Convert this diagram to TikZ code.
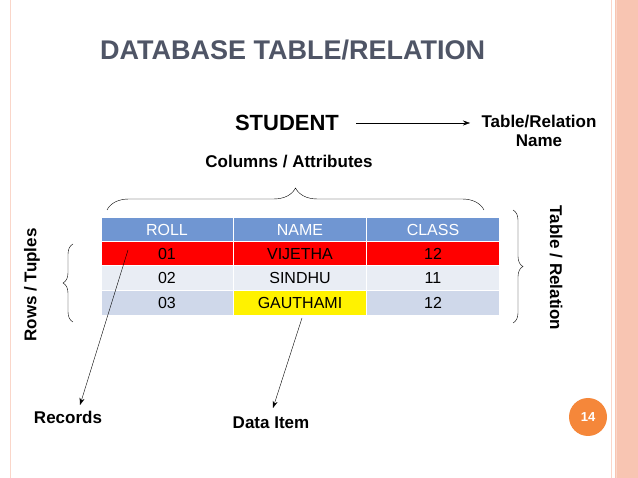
\documentclass[tikz,border=0pt]{standalone}
\usepackage{fontspec}
\setmainfont{Liberation Sans}
\usetikzlibrary{arrows.meta,decorations.pathreplacing}
\definecolor{hdr}{HTML}{7096D2}
\definecolor{rowa}{HTML}{E9EDF4}
\definecolor{rowb}{HTML}{CFD8EA}
\definecolor{ttl}{HTML}{4F5566}
\definecolor{pinkb}{HTML}{F8C5B2}
\definecolor{orng}{HTML}{F5873A}
\tikzset{lbl/.style={font=\bfseries\fontsize{17}{19}\selectfont,align=center},
cell/.style={font=\fontsize{16}{18}\selectfont},
ptr/.style={-{Stealth[length=7pt,width=5pt]},thin}}
\begin{document}
\begin{tikzpicture}[x=1pt,y=-1pt]
\useasboundingbox (0,0) rectangle (638,478);
\fill[white] (0,0) rectangle (638,478);
\fill[pinkb] (611,0) rectangle (638,478);
\draw[pinkb!70,line width=1pt] (611,0)--(611,478) (616,0)--(616,478) (10,0)--(10,478);
\fill[white] (612,0) rectangle (615,478);
\node[text=ttl,font=\bfseries\fontsize{27}{30}\selectfont,anchor=west,inner sep=0pt] (title) at (100,50) {DATABASE TABLE/RELATION};
\node[font=\bfseries\fontsize{22}{24}\selectfont] (stu) at (287,123) {STUDENT};
\node[lbl] (tname) at (539,131) {Table/Relation\\Name};
\coordinate (ae) at (470,123);
\draw[ptr] (356,123) -- (ae);
\node[lbl] (cols) at (289,162) {Columns / Attributes};
\draw[decorate,decoration={brace,amplitude=22pt},thin] (107,210) -- (484,210);
% table
\fill[hdr] (102,218) rectangle (499,241);
\fill[red] (102,242) rectangle (499,265);
\fill[rowa] (102,266) rectangle (499,290);
\fill[rowb] (102,291) rectangle (499,315);
\fill[yellow] (234,291) rectangle (366,315);
\draw[white,line width=1pt] (233.5,218)--(233.5,315) (366.5,218)--(366.5,315);
\foreach \t/\x in {ROLL/167,NAME/300,CLASS/433}{\node[cell,text=white] at (\x,230) {\t};}
\node[cell] (r1) at (167,254) {01}; \node[cell] at (300,254) {VIJETHA}; \node[cell] at (433,254) {12};
\node[cell] at (167,278) {02}; \node[cell] at (300,278) {SINDHU}; \node[cell] at (433,278) {11};
\node[cell] at (167,303) {03}; \node[cell] (gau) at (300,303) {GAUTHAMI}; \node[cell] at (433,303) {12};
\draw[decorate,decoration={brace,amplitude=10pt},thin] (73,322) -- (73,244);
\draw[decorate,decoration={brace,amplitude=10pt},thin] (513,210) -- (513,323);
\node[lbl,rotate=90] (rows) at (32,285) {Rows / Tuples};
\node[lbl,rotate=-90] (trel) at (556,268) {Table / Relation};
\node[lbl] (rec) at (68,417) {Records};
\node[lbl] (di) at (271,423) {Data Item};
\coordinate (p1) at (128,250); \coordinate (p2) at (302,318);
\coordinate (q1) at (80,405); \coordinate (q2) at (273,408);
\draw[ptr] (p1) -- (q1);
\draw[ptr] (p2) -- (q2);
\node[circle,fill=orng,minimum size=38pt,text=white,font=\bfseries\fontsize{13}{14}\selectfont] (pg) at (588,417) {14};
\end{tikzpicture}
\end{document}
